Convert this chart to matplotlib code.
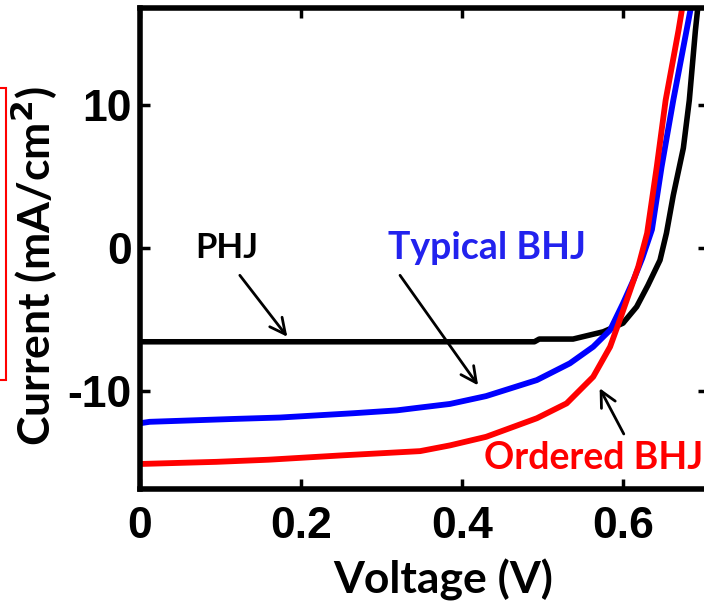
import matplotlib
matplotlib.use("Agg")
import matplotlib.pyplot as plt
from matplotlib.patches import Rectangle

# J-V curves
v_phj = [0, 0.49, 0.496, 0.538, 0.5756, 0.600, 0.617, 0.631, 0.646, 0.654, 0.6625, 0.675, 0.6824, 0.690, 0.697]
i_phj = [-6.55, -6.55, -6.36, -6.36, -5.85, -5.25, -4.1, -2.6, -0.84, 1.05, 3.7, 7.0, 10.35, 15.24, 19.0]

v_typ = [0, 0.012, 0.116, 0.174, 0.265, 0.319, 0.348, 0.385, 0.43, 0.493, 0.534, 0.563, 0.584, 0.600,
         0.613, 0.624, 0.636, 0.648, 0.6625, 0.679, 0.69]
i_typ = [-12.25, -12.15, -11.95, -11.85, -11.55, -11.35, -11.15, -10.9, -10.35, -9.23, -8.06, -6.9, -5.73, -3.87,
         -2.24, -0.7, 1.3, 5.7, 10.35, 15.24, 18.5]

v_ord = [0, 0.095, 0.16, 0.25, 0.348, 0.385, 0.43, 0.493, 0.53, 0.563, 0.584, 0.596, 0.609, 0.619,
         0.630, 0.642, 0.653, 0.669, 0.68]
i_ord = [-15.1, -14.95, -14.8, -14.5, -14.2, -13.8, -13.2, -11.9, -10.86, -9.0, -6.9, -5.03, -2.94, -1.3,
         1.05, 5.7, 10.35, 15.24, 19.0]

x_ticks = [0, 0.2, 0.4, 0.6]
x_labels = ["0", "0.2", "0.4", "0.6"]
y_ticks = [-10, 0, 10]
y_labels = ["-10", "0", "10"]

label_font = "Lato"
tick_font = "Liberation Sans"

fig = plt.figure(figsize=(7.04, 6.03), dpi=100)
ax = fig.add_axes([140 / 704, 114 / 603, 567.5 / 704, 481 / 603])

ax.plot(v_phj, i_phj, color="black", lw=4)
ax.plot(v_typ, i_typ, color="#0000ff", lw=4.2)
ax.plot(v_ord, i_ord, color="#ff0000", lw=4.2)

ax.set_xlim(0, 0.705)
ax.set_ylim(-16.85, 16.8)

ax.set_xticks(x_ticks)
ax.set_xticklabels(x_labels, fontfamily=tick_font, fontweight="bold", fontsize=32)
ax.set_yticks(y_ticks)
ax.set_yticklabels(y_labels, fontfamily=tick_font, fontweight="bold", fontsize=32)
ax.tick_params(direction="in", length=7, width=2.5, top=True, right=True)
ax.tick_params(axis="x", pad=12)
ax.tick_params(axis="y", pad=6)
for s in ax.spines.values():
    s.set_linewidth(4)

ax.set_xlabel("Voltage (V)", fontfamily=label_font, fontweight="bold", fontsize=32)
ax.set_ylabel("Current (mA/cm$^\\mathbf{2}$)", fontfamily=label_font, fontweight="bold", fontsize=32)
ax.xaxis.set_label_coords(0.534, -0.145)
ax.yaxis.set_label_coords(-0.141, 0.4636)

# curve labels and arrows
ax.text(0.108, 0, "PHJ", color="black", fontfamily=label_font, fontweight="bold",
        fontsize=25, ha="center", va="center")
ax.text(0.431, 0, "Typical BHJ", color="#2222ee", fontfamily=label_font, fontweight="bold",
        fontsize=27, ha="center", va="center")
ax.text(0.563, -14.7, "Ordered BHJ", color="#ff0000", fontfamily=label_font, fontweight="bold",
        fontsize=27, ha="center", va="center")

arrow = dict(arrowstyle="->", color="black", lw=2, mutation_scale=28, shrinkA=0, shrinkB=0)
ax.annotate("", xy=(0.183, -6.2), xytext=(0.124, -1.9), arrowprops=arrow)
ax.annotate("", xy=(0.42, -9.6), xytext=(0.323, -1.9), arrowprops=arrow)
ax.annotate("", xy=(0.571, -9.8), xytext=(0.601, -13.0), arrowprops=arrow)

# red frame cut off at the left edge
fig.patches.append(Rectangle((-20 / 704, 1 - 380 / 603), 26 / 704, 292 / 603,
                             transform=fig.transFigure, fill=False, edgecolor="red", lw=1.5))

fig.savefig("out.png", dpi=100)
